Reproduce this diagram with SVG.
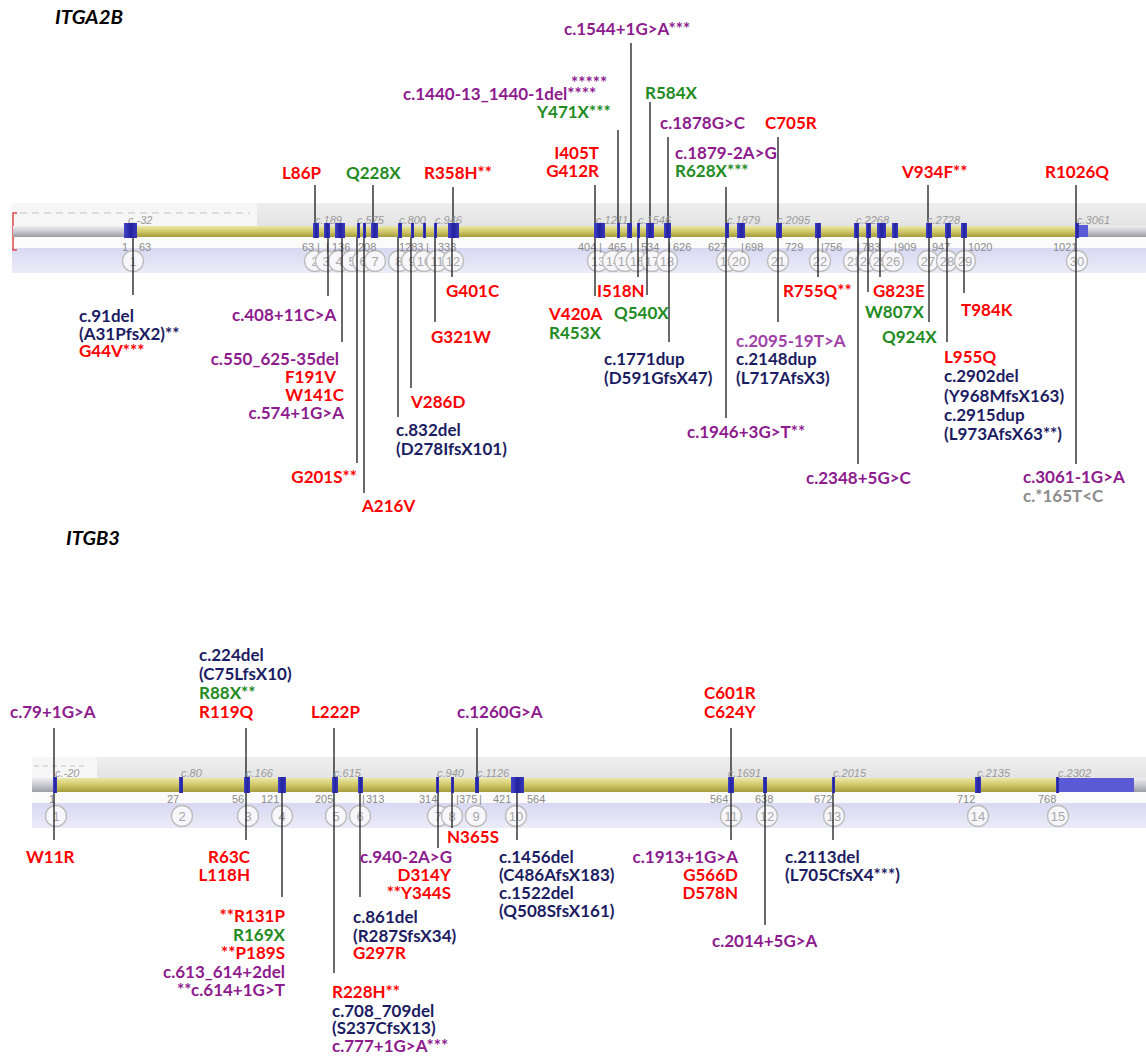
<svg xmlns="http://www.w3.org/2000/svg" width="1146" height="1057" viewBox="0 0 1146 1057">
<style>
text{font-family:Lato,"Open Sans","Liberation Sans",sans-serif;font-weight:bold;font-size:17px}
.r{fill:#ff0000}.g{fill:#228b22}.p{fill:#8e1b8e}.lp{fill:#a040a8}.n{fill:#1c1c62}.gy{fill:#8c8c8c}
.e{text-anchor:end}
.title{font-style:italic;font-size:19px;fill:#000}
.it{font-family:"Liberation Sans",Arial,sans-serif;font-weight:normal;font-style:italic;font-size:11px;fill:#9a9a9a}
.num{font-family:"Liberation Sans",Arial,sans-serif;font-weight:normal;font-size:11px;fill:#8a8a8a}
.cn{font-family:"Liberation Sans",Arial,sans-serif;font-weight:normal;font-size:13px;fill:#a8a8a8;text-anchor:middle}
.ci{fill:#f7f7fb;stroke:#bdbdbd;stroke-width:1.4}
.ex{fill:url(#exg)}
.exl{fill:#5a5ad6}
#connectors line{stroke:#1a1a1a;stroke-width:1.3}
</style>
<defs>
<linearGradient id="yel" x1="0" y1="0" x2="0" y2="1"><stop offset="0" stop-color="#ebe7a8"/><stop offset="0.45" stop-color="#d3cb6c"/><stop offset="1" stop-color="#a59c3e"/></linearGradient>
<linearGradient id="gry" x1="0" y1="0" x2="0" y2="1"><stop offset="0" stop-color="#f0f0f2"/><stop offset="0.5" stop-color="#c8c8cf"/><stop offset="1" stop-color="#9c9ca6"/></linearGradient>
<linearGradient id="lav" x1="0" y1="0" x2="0" y2="1"><stop offset="0" stop-color="#d8d8f3"/><stop offset="1" stop-color="#ececf8"/></linearGradient>
<linearGradient id="top" x1="0" y1="0" x2="0" y2="1"><stop offset="0" stop-color="#eeeeee"/><stop offset="1" stop-color="#e4e4e4"/></linearGradient>
<linearGradient id="exg" x1="0" y1="0" x2="1" y2="0"><stop offset="0" stop-color="#4444cc"/><stop offset="0.5" stop-color="#22229e"/><stop offset="1" stop-color="#3838bc"/></linearGradient>
</defs>
<rect width="1146" height="1057" fill="#ffffff"/>

<!-- ===== ITGA2B track ===== -->
<g id="itga2b-track">
<text class="title" x="55" y="24" textLength="68" lengthAdjust="spacingAndGlyphs">ITGA2B</text>
<rect x="12" y="203" width="1134" height="23" fill="url(#top)"/>
<rect x="12" y="203" width="245" height="23" fill="#f6f6f6"/>
<line x1="20" y1="213" x2="250" y2="213" stroke="#d4d4d4" stroke-width="1.5" stroke-dasharray="7 5"/>
<rect x="12" y="237" width="1134" height="11" fill="#fbfbfb"/>
<rect x="12" y="248" width="1134" height="25" fill="url(#lav)"/>
<path d="M17,213 H13 V250 H17" fill="none" stroke="#dd4a4a" stroke-width="1.5"/>
<g id="itga2b-circles">
<circle class="ci" cx="133" cy="261" r="10.5"/><text class="cn" x="133" y="266">1</text>
<circle class="ci" cx="315" cy="261" r="10.5"/><text class="cn" x="315" y="266">2</text>
<circle class="ci" cx="326" cy="261" r="10.5"/><text class="cn" x="326" y="266">3</text>
<circle class="ci" cx="339" cy="261" r="10.5"/><text class="cn" x="339" y="266">4</text>
<circle class="ci" cx="352" cy="261" r="10.5"/><text class="cn" x="352" y="266">5</text>
<circle class="ci" cx="363" cy="261" r="10.5"/><text class="cn" x="363" y="266">6</text>
<circle class="ci" cx="375" cy="261" r="10.5"/><text class="cn" x="375" y="266">7</text>
<circle class="ci" cx="399" cy="261" r="10.5"/><text class="cn" x="399" y="266">8</text>
<circle class="ci" cx="412" cy="261" r="10.5"/><text class="cn" x="412" y="266">9</text>
<circle class="ci" cx="424" cy="261" r="10.5"/><text class="cn" x="424" y="266">10</text>
<circle class="ci" cx="437" cy="261" r="10.5"/><text class="cn" x="437" y="266">11</text>
<circle class="ci" cx="453" cy="261" r="10.5"/><text class="cn" x="453" y="266">12</text>
<circle class="ci" cx="598" cy="261" r="10.5"/><text class="cn" x="598" y="266">13</text>
<circle class="ci" cx="613" cy="261" r="10.5"/><text class="cn" x="613" y="266">14</text>
<circle class="ci" cx="625" cy="261" r="10.5"/><text class="cn" x="625" y="266">15</text>
<circle class="ci" cx="637" cy="261" r="10.5"/><text class="cn" x="637" y="266">16</text>
<circle class="ci" cx="652" cy="261" r="10.5"/><text class="cn" x="652" y="266">17</text>
<circle class="ci" cx="667" cy="261" r="10.5"/><text class="cn" x="667" y="266">18</text>
<circle class="ci" cx="727" cy="261" r="10.5"/><text class="cn" x="727" y="266">19</text>
<circle class="ci" cx="739" cy="261" r="10.5"/><text class="cn" x="739" y="266">20</text>
<circle class="ci" cx="778" cy="261" r="10.5"/><text class="cn" x="778" y="266">21</text>
<circle class="ci" cx="820" cy="261" r="10.5"/><text class="cn" x="820" y="266">22</text>
<circle class="ci" cx="854" cy="261" r="10.5"/><text class="cn" x="854" y="266">23</text>
<circle class="ci" cx="867" cy="261" r="10.5"/><text class="cn" x="867" y="266">24</text>
<circle class="ci" cx="880" cy="261" r="10.5"/><text class="cn" x="880" y="266">25</text>
<circle class="ci" cx="893" cy="261" r="10.5"/><text class="cn" x="893" y="266">26</text>
<circle class="ci" cx="928" cy="261" r="10.5"/><text class="cn" x="928" y="266">27</text>
<circle class="ci" cx="947" cy="261" r="10.5"/><text class="cn" x="947" y="266">28</text>
<circle class="ci" cx="965" cy="261" r="10.5"/><text class="cn" x="965" y="266">29</text>
<circle class="ci" cx="1077" cy="261" r="10.5"/><text class="cn" x="1077" y="266">30</text>
</g>
<g id="itga2b-numbers">
<text class="num" x="122" y="251">1</text><text class="num" x="139" y="251">63</text>
<text class="num" x="302" y="251">63</text><text class="num" x="317" y="251">|</text><text class="num" x="326" y="251">|</text><text class="num" x="332" y="251">136</text><text class="num" x="358" y="251">208</text>
<text class="num" x="399" y="251">1283</text><text class="num" x="426" y="251">|</text><text class="num" x="438" y="251">333</text>
<text class="num" x="578" y="251">404</text><text class="num" x="599" y="251">|</text><text class="num" x="608" y="251">465</text><text class="num" x="630" y="251">|</text><text class="num" x="641" y="251">534</text><text class="num" x="668" y="251">|</text><text class="num" x="673" y="251">626</text>
<text class="num" x="708" y="251">627</text><text class="num" x="741" y="251">|</text><text class="num" x="745" y="251">698</text>
<text class="num" x="785" y="251">729</text><text class="num" x="821" y="251">|</text><text class="num" x="824" y="251">756</text><text class="num" x="857" y="251">|</text><text class="num" x="862" y="251">783</text><text class="num" x="894" y="251">|</text><text class="num" x="898" y="251">909</text><text class="num" x="932" y="251">947</text><text class="num" x="968" y="251">1020</text><text class="num" x="1053" y="251">1021</text>
</g>
</g>

<!-- ===== ITGB3 track background ===== -->
<g id="itgb3-track">
<text class="title" x="66" y="545" textLength="54" lengthAdjust="spacingAndGlyphs">ITGB3</text>
<rect x="32" y="757" width="1114" height="21" fill="url(#top)"/>
<rect x="32" y="757" width="65" height="21" fill="#f6f6f6"/>
<line x1="34" y1="766" x2="84" y2="766" stroke="#d4d4d4" stroke-width="1.5" stroke-dasharray="5 4"/>
<rect x="32" y="792" width="1114" height="11" fill="#fbfbfb"/>
<rect x="32" y="803" width="1114" height="25" fill="url(#lav)"/>
<g id="itgb3-circles">
<circle class="ci" cx="56" cy="816" r="10.5"/><text class="cn" x="56" y="821">1</text>
<circle class="ci" cx="182" cy="816" r="10.5"/><text class="cn" x="182" y="821">2</text>
<circle class="ci" cx="248" cy="816" r="10.5"/><text class="cn" x="248" y="821">3</text>
<circle class="ci" cx="282" cy="816" r="10.5"/><text class="cn" x="282" y="821">4</text>
<circle class="ci" cx="336" cy="816" r="10.5"/><text class="cn" x="336" y="821">5</text>
<circle class="ci" cx="360" cy="816" r="10.5"/><text class="cn" x="360" y="821">6</text>
<circle class="ci" cx="438" cy="816" r="10.5"/><text class="cn" x="438" y="821">7</text>
<circle class="ci" cx="452" cy="816" r="10.5"/><text class="cn" x="452" y="821">8</text>
<circle class="ci" cx="476" cy="816" r="10.5"/><text class="cn" x="476" y="821">9</text>
<circle class="ci" cx="516" cy="816" r="10.5"/><text class="cn" x="516" y="821">10</text>
<circle class="ci" cx="731" cy="816" r="10.5"/><text class="cn" x="731" y="821">11</text>
<circle class="ci" cx="767" cy="816" r="10.5"/><text class="cn" x="767" y="821">12</text>
<circle class="ci" cx="834" cy="816" r="10.5"/><text class="cn" x="834" y="821">13</text>
<circle class="ci" cx="978" cy="816" r="10.5"/><text class="cn" x="978" y="821">14</text>
<circle class="ci" cx="1058" cy="816" r="10.5"/><text class="cn" x="1058" y="821">15</text>
</g>
<g id="itgb3-numbers">
<text class="num" x="49" y="803">1</text><text class="num" x="167" y="803">27</text><text class="num" x="232" y="803">56</text><text class="num" x="261" y="803">121</text><text class="num" x="315" y="803">205</text><text class="num" x="362" y="803">|</text><text class="num" x="366" y="803">313</text>
<text class="num" x="419" y="803">314</text><text class="num" x="456" y="803">|</text><text class="num" x="459" y="803">375</text><text class="num" x="479" y="803">|</text><text class="num" x="493" y="803">421</text><text class="num" x="527" y="803">564</text>
<text class="num" x="710" y="803">564</text><text class="num" x="755" y="803">638</text><text class="num" x="814" y="803">672</text><text class="num" x="957" y="803">712</text><text class="num" x="1038" y="803">768</text>
</g>
</g>

<!-- ===== connectors ===== -->
<g id="connectors">
<!-- ITGA2B upper -->
<line x1="315" y1="185" x2="315" y2="230"/>
<line x1="373" y1="185" x2="373" y2="230"/>
<line x1="453" y1="187" x2="453" y2="230"/>
<line x1="595" y1="185" x2="595" y2="230"/>
<line x1="618" y1="130" x2="618" y2="230"/>
<line x1="631" y1="43" x2="631" y2="230"/>
<line x1="650" y1="102" x2="650" y2="230"/>
<line x1="668" y1="137" x2="668" y2="230"/>
<line x1="726" y1="187" x2="726" y2="230"/>
<line x1="778" y1="137" x2="778" y2="230"/>
<line x1="928" y1="185" x2="928" y2="230"/>
<line x1="1076" y1="185" x2="1076" y2="230"/>
<!-- ITGA2B lower -->
<line x1="133" y1="232" x2="133" y2="295"/>
<line x1="328" y1="232" x2="328" y2="296"/>
<line x1="342" y1="232" x2="342" y2="342"/>
<line x1="357" y1="232" x2="357" y2="463"/>
<line x1="364" y1="232" x2="364" y2="493"/>
<line x1="398" y1="232" x2="398" y2="417"/>
<line x1="411" y1="232" x2="411" y2="388"/>
<line x1="435" y1="232" x2="435" y2="322"/>
<line x1="452" y1="232" x2="452" y2="277"/>
<line x1="595" y1="232" x2="595" y2="296"/>
<line x1="638" y1="232" x2="638" y2="277"/>
<line x1="647" y1="232" x2="647" y2="295"/>
<line x1="669" y1="232" x2="669" y2="342"/>
<line x1="726" y1="232" x2="726" y2="418"/>
<line x1="778" y1="232" x2="778" y2="322"/>
<line x1="818" y1="232" x2="818" y2="277"/>
<line x1="858" y1="232" x2="858" y2="464"/>
<line x1="868" y1="232" x2="868" y2="292"/>
<line x1="880" y1="232" x2="880" y2="277"/>
<line x1="929" y1="232" x2="929" y2="322"/>
<line x1="947" y1="232" x2="947" y2="342"/>
<line x1="964" y1="232" x2="964" y2="293"/>
<line x1="1076" y1="232" x2="1076" y2="464"/>
<!-- ITGB3 upper -->
<line x1="54" y1="728" x2="54" y2="784"/>
<line x1="246" y1="728" x2="246" y2="784"/>
<line x1="334" y1="728" x2="334" y2="784"/>
<line x1="477" y1="728" x2="477" y2="784"/>
<line x1="731" y1="728" x2="731" y2="784"/>
<!-- ITGB3 lower -->
<line x1="54" y1="786" x2="54" y2="840"/>
<line x1="246" y1="786" x2="246" y2="840"/>
<line x1="282" y1="786" x2="282" y2="897"/>
<line x1="334" y1="786" x2="334" y2="973"/>
<line x1="360" y1="786" x2="360" y2="897"/>
<line x1="438" y1="786" x2="438" y2="848"/>
<line x1="452" y1="786" x2="452" y2="828"/>
<line x1="517" y1="786" x2="517" y2="840"/>
<line x1="731" y1="786" x2="731" y2="840"/>
<line x1="765" y1="786" x2="765" y2="925"/>
<line x1="833" y1="786" x2="833" y2="840"/>
</g>

<!-- ===== ITGA2B bar and exons (on top) ===== -->
<g id="itga2b-bar">
<g id="itga2b-clabels">
<text class="it" x="128" y="224">c.-32</text><text class="it" x="315" y="224">c.189</text><text class="it" x="357" y="224">c.575</text><text class="it" x="399" y="224">c.800</text><text class="it" x="435" y="224">c.946</text><text class="it" x="596" y="224">c.1211</text><text class="it" x="638" y="224">c.1546</text><text class="it" x="727" y="224">c.1879</text><text class="it" x="777" y="224">c.2095</text><text class="it" x="856" y="224">c.2268</text><text class="it" x="927" y="224">c.2728</text><text class="it" x="1077" y="224">c.3061</text>
</g>
<rect x="13" y="226" width="112" height="11" fill="url(#gry)"/>
<rect x="124" y="226" width="958" height="11" fill="url(#yel)"/>
<rect x="1088" y="226" width="58" height="11" fill="url(#gry)"/>
<rect class="exl" x="1076" y="225" width="12" height="12"/>
<rect class="ex" x="124" y="223" width="13" height="15"/>
<rect class="ex" x="313" y="223" width="6" height="15"/>
<rect class="ex" x="324" y="223" width="6" height="15"/>
<rect class="ex" x="335" y="223" width="10" height="15"/>
<rect class="ex" x="357" y="223" width="3" height="15"/>
<rect class="ex" x="363" y="223" width="3" height="15"/>
<rect class="ex" x="371" y="223" width="7" height="15"/>
<rect class="ex" x="398" y="223" width="4" height="15"/>
<rect class="ex" x="411" y="223" width="3" height="15"/>
<rect class="ex" x="423" y="223" width="3" height="15"/>
<rect class="ex" x="434" y="223" width="3" height="15"/>
<rect class="ex" x="448" y="223" width="11" height="15"/>
<rect class="ex" x="594" y="223" width="11" height="15"/>
<rect class="ex" x="617" y="223" width="3" height="15"/>
<rect class="ex" x="627" y="223" width="5" height="15"/>
<rect class="ex" x="637" y="223" width="3" height="15"/>
<rect class="ex" x="646" y="223" width="8" height="15"/>
<rect class="ex" x="664" y="223" width="7" height="15"/>
<rect class="ex" x="725" y="223" width="4" height="15"/>
<rect class="ex" x="737" y="223" width="8" height="15"/>
<rect class="ex" x="776" y="223" width="6" height="15"/>
<rect class="ex" x="815" y="223" width="6" height="15"/>
<rect class="ex" x="854" y="223" width="5" height="15"/>
<rect class="ex" x="866" y="223" width="5" height="15"/>
<rect class="ex" x="877" y="223" width="9" height="15"/>
<rect class="ex" x="892" y="223" width="6" height="15"/>
<rect class="ex" x="926" y="223" width="6" height="15"/>
<rect class="ex" x="945" y="223" width="6" height="15"/>
<rect class="ex" x="961" y="223" width="6" height="15"/>
<rect class="ex" x="1075" y="223" width="4" height="15"/>
</g>

<!-- ===== ITGB3 bar and exons ===== -->
<g id="itgb3-bar">
<g id="itgb3-clabels">
<text class="it" x="55" y="777">c.-20</text><text class="it" x="181" y="777">c.80</text><text class="it" x="246" y="777">c.166</text><text class="it" x="334" y="777">c.615</text><text class="it" x="437" y="777">c.940</text><text class="it" x="477" y="777">c.1126</text><text class="it" x="728" y="777">c.1691</text><text class="it" x="833" y="777">c.2015</text><text class="it" x="977" y="777">c.2135</text><text class="it" x="1058" y="777">c.2302</text>
</g>
<rect x="32" y="778" width="24" height="14" fill="url(#gry)"/>
<rect x="55" y="778" width="1003" height="14" fill="url(#yel)"/>
<rect class="exl" x="1056" y="778" width="78" height="14"/>
<rect x="1134" y="778" width="12" height="14" fill="url(#gry)"/>
<rect class="ex" x="53" y="777" width="4" height="16"/>
<rect class="ex" x="179" y="777" width="4" height="16"/>
<rect class="ex" x="244" y="777" width="6" height="16"/>
<rect class="ex" x="278" y="777" width="8" height="16"/>
<rect class="ex" x="332" y="777" width="6" height="16"/>
<rect class="ex" x="358" y="777" width="5" height="16"/>
<rect class="ex" x="436" y="777" width="3" height="16"/>
<rect class="ex" x="451" y="777" width="3" height="16"/>
<rect class="ex" x="475" y="777" width="4" height="16"/>
<rect class="ex" x="511" y="777" width="13" height="16"/>
<rect class="ex" x="728" y="777" width="6" height="16"/>
<rect class="ex" x="763" y="777" width="4" height="16"/>
<rect class="ex" x="832" y="777" width="3" height="16"/>
<rect class="ex" x="975" y="777" width="6" height="16"/>
<rect class="ex" x="1056" y="777" width="3" height="16"/>
</g>

<!-- ===== ITGA2B labels (upper) ===== -->
<g id="a-L86P"><text class="r" x="282" y="179">L86P</text></g>
<g id="a-Q228X"><text class="g" x="346" y="179">Q228X</text></g>
<g id="a-R358H"><text class="r" x="424" y="179">R358H**</text></g>
<g id="a-I405T"><text class="r e" x="599" y="159">I405T</text><text class="r e" x="599" y="177">G412R</text></g>
<g id="a-c1440"><text class="p" x="571" y="89">*****</text><text class="p" x="403" y="100">c.1440-13_1440-1del****</text><text class="g" x="537" y="118">Y471X***</text></g>
<g id="a-c1544"><text class="p" x="564" y="35">c.1544+1G&gt;A***</text></g>
<g id="a-R584X"><text class="g" x="645" y="99">R584X</text></g>
<g id="a-c1878"><text class="p" x="660" y="129">c.1878G&gt;C</text></g>
<g id="a-C705R"><text class="r" x="765" y="129">C705R</text></g>
<g id="a-c1879"><text class="p" x="675" y="159">c.1879-2A&gt;G</text><text class="g" x="675" y="177">R628X***</text></g>
<g id="a-V934F"><text class="r" x="902" y="178">V934F**</text></g>
<g id="a-R1026Q"><text class="r" x="1045" y="178">R1026Q</text></g>

<!-- ===== ITGA2B labels (lower) ===== -->
<g id="a-c91"><text class="n" x="79" y="322">c.91del</text><text class="n" x="79" y="340">(A31PfsX2)**</text><text class="r" x="79" y="357">G44V***</text></g>
<g id="a-c408"><text class="p" x="232" y="321">c.408+11C&gt;A</text></g>
<g id="a-c550"><text class="p e" x="339" y="365">c.550_625-35del</text><text class="r e" x="336" y="383">F191V</text><text class="r e" x="344" y="401">W141C</text><text class="p e" x="344" y="419">c.574+1G&gt;A</text></g>
<g id="a-G201S"><text class="r e" x="357" y="483">G201S**</text></g>
<g id="a-A216V"><text class="r" x="362" y="512">A216V</text></g>
<g id="a-c832"><text class="n" x="396" y="436">c.832del</text><text class="n" x="396" y="455">(D278IfsX101)</text></g>
<g id="a-V286D"><text class="r" x="411" y="408">V286D</text></g>
<g id="a-G321W"><text class="r" x="431" y="343">G321W</text></g>
<g id="a-G401C"><text class="r" x="446" y="297">G401C</text></g>
<g id="a-V420A"><text class="r" x="549" y="320">V420A</text><text class="g" x="549" y="339">R453X</text></g>
<g id="a-I518N"><text class="r" x="597" y="297">I518N</text></g>
<g id="a-Q540X"><text class="g" x="614" y="319">Q540X</text></g>
<g id="a-c1771"><text class="n" x="604" y="365">c.1771dup</text><text class="n" x="604" y="384">(D591GfsX47)</text></g>
<g id="a-c1946"><text class="p" x="687" y="438">c.1946+3G&gt;T**</text></g>
<g id="a-c2095"><text class="lp" x="736" y="347">c.2095-19T&gt;A</text><text class="n" x="736" y="365">c.2148dup</text><text class="n" x="736" y="384">(L717AfsX3)</text></g>
<g id="a-R755Q"><text class="r" x="783" y="297">R755Q**</text></g>
<g id="a-c2348"><text class="p" x="806" y="484">c.2348+5G&gt;C</text></g>
<g id="a-W807X"><text class="g" x="865" y="318">W807X</text></g>
<g id="a-G823E"><text class="r" x="873" y="297">G823E</text></g>
<g id="a-Q924X"><text class="g" x="882" y="343">Q924X</text></g>
<g id="a-L955Q"><text class="r" x="944" y="363">L955Q</text><text class="n" x="944" y="382">c.2902del</text><text class="n" x="944" y="402">(Y968MfsX163)</text><text class="n" x="944" y="421">c.2915dup</text><text class="n" x="944" y="440">(L973AfsX63**)</text></g>
<g id="a-T984K"><text class="r" x="961" y="316">T984K</text></g>
<g id="a-c3061"><text class="p" x="1023" y="483">c.3061-1G&gt;A</text><text class="gy" x="1023" y="502">c.*165T&lt;C</text></g>

<!-- ===== ITGB3 labels (upper) ===== -->
<g id="b-c79"><text class="p" x="10" y="718">c.79+1G&gt;A</text></g>
<g id="b-c224"><text class="n" x="199" y="661">c.224del</text><text class="n" x="199" y="680">(C75LfsX10)</text><text class="g" x="199" y="699">R88X**</text><text class="r" x="199" y="718">R119Q</text></g>
<g id="b-L222P"><text class="r" x="311" y="718">L222P</text></g>
<g id="b-c1260"><text class="p" x="457" y="718">c.1260G&gt;A</text></g>
<g id="b-C601R"><text class="r" x="704" y="699">C601R</text><text class="r" x="704" y="718">C624Y</text></g>

<!-- ===== ITGB3 labels (lower) ===== -->
<g id="b-W11R"><text class="r" x="26" y="863">W11R</text></g>
<g id="b-R63C"><text class="r e" x="250" y="863">R63C</text><text class="r e" x="250" y="881">L118H</text></g>
<g id="b-R131P"><text class="r e" x="285" y="922">**R131P</text><text class="g e" x="285" y="941">R169X</text><text class="r e" x="285" y="959">**P189S</text><text class="p e" x="285" y="978">c.613_614+2del</text><text class="p e" x="285" y="996">**c.614+1G&gt;T</text></g>
<g id="b-R228H"><text class="r" x="332" y="998">R228H**</text><text class="n" x="332" y="1017">c.708_709del</text><text class="n" x="332" y="1034">(S237CfsX13)</text><text class="p" x="332" y="1052">c.777+1G&gt;A***</text></g>
<g id="b-c861"><text class="n" x="353" y="923">c.861del</text><text class="n" x="353" y="942">(R287SfsX34)</text><text class="r" x="353" y="959">G297R</text></g>
<g id="b-c940"><text class="p" x="360" y="863">c.940-2A&gt;G</text><text class="r e" x="451" y="881">D314Y</text><text class="r e" x="451" y="899">**Y344S</text></g>
<g id="b-N365S"><text class="r" x="447" y="843">N365S</text></g>
<g id="b-c1456"><text class="n" x="499" y="863">c.1456del</text><text class="n" x="499" y="881">(C486AfsX183)</text><text class="n" x="499" y="899">c.1522del</text><text class="n" x="499" y="917">(Q508SfsX161)</text></g>
<g id="b-c1913"><text class="p e" x="738" y="863">c.1913+1G&gt;A</text><text class="r e" x="738" y="881">G566D</text><text class="r e" x="738" y="899">D578N</text></g>
<g id="b-c2014"><text class="p" x="712" y="947">c.2014+5G&gt;A</text></g>
<g id="b-c2113"><text class="n" x="785" y="863">c.2113del</text><text class="n" x="785" y="881">(L705CfsX4***)</text></g>
</svg>
